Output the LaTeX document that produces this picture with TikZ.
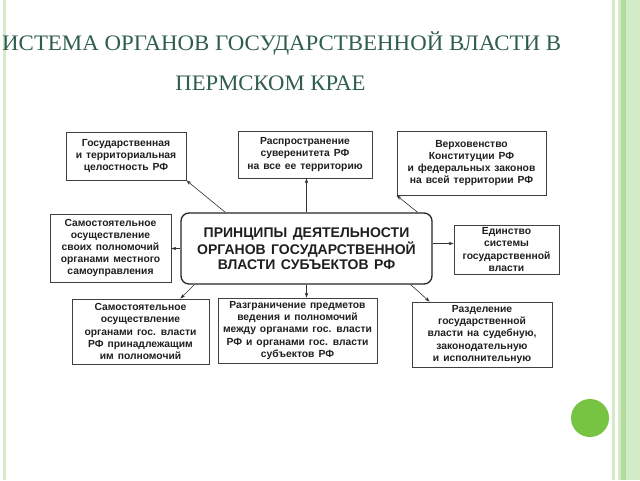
\documentclass[tikz,border=0pt]{standalone}
\usepackage{fontspec}
\setmainfont{Liberation Serif}
\newfontfamily\boxfont{Liberation Sans}[WordSpace={1.4}]
\usetikzlibrary{arrows.meta,calc}
\definecolor{titlegreen}{HTML}{2F5E4C}
\definecolor{stripelight}{HTML}{D3EBC6}
\definecolor{stripedark}{HTML}{B2DB9C}
\definecolor{dotgreen}{HTML}{77C442}
\tikzset{
  smallbox/.style={draw=black!75, line width=0.8pt, fill=white, align=center,
    font=\boxfont\bfseries\fontsize{10.3}{12.2}\selectfont, text=black!88,
    inner sep=0pt},
  mainbox/.style={draw=black!85, line width=1.3pt, rounded corners=8pt, align=center,
    font=\boxfont\bfseries\fontsize{14}{15}\selectfont, text=black!88,
    minimum width=251pt, minimum height=71pt, inner sep=0pt},
  arr/.style={draw=black!80, line width=0.6pt, -{Stealth[length=5pt,width=3.5pt]}},
  titletext/.style={text=titlegreen, font=\fontsize{21.5}{24}\selectfont, inner sep=0pt}
}
\begin{document}
\begin{tikzpicture}[x=1pt,y=-1pt]
\useasboundingbox (0,0) rectangle (640,480);
\fill[white] (0,0) rectangle (640,480);
% decorative stripes
\fill[stripelight] (3,0) rectangle (6,480);
\fill[stripelight] (612,0) rectangle (615,480);
\fill[stripelight] (618,0) rectangle (640,480);
\fill[stripedark] (621,0) rectangle (626,480);
\fill[dotgreen] (590,418) circle (19);
% title
\node[titletext, anchor=base west] (t1) at (2,50) {\scalebox{1.065}[1.03]{ИСТЕМА ОРГАНОВ ГОСУДАРСТВЕННОЙ ВЛАСТИ В}};
\node[titletext, anchor=base] (t2) at (270.5,90) {\scalebox{1.056}[1.03]{ПЕРМСКОМ КРАЕ}};
% boxes
\node[mainbox] (c) at (306.5,248.5) {ПРИНЦИПЫ ДЕЯТЕЛЬНОСТИ\\ОРГАНОВ ГОСУДАРСТВЕННОЙ\\ВЛАСТИ СУБЪЕКТОВ РФ};
\node[smallbox, minimum width=120pt, minimum height=48pt] (b1) at (126,156) {Государственная\\и территориальная\\целостность РФ};
\node[smallbox, minimum width=134pt, minimum height=47pt] (b2) at (305,154.5) {Распространение\\суверенитета РФ\\на все ее территорию};
\node[smallbox, minimum width=149pt, minimum height=64pt] (b3) at (471.5,163) {Верховенство\\Конституции РФ\\и федеральных законов\\на всей территории РФ};
\node[smallbox, minimum width=121pt, minimum height=68pt] (b4) at (110.5,248) {Самостоятельное\\осуществление\\своих полномочий\\органами местного\\самоуправления};
\node[smallbox, minimum width=105pt, minimum height=49pt] (b6) at (506.5,249.5) {Единство\\системы\\государственной\\власти};
\node[smallbox, minimum width=137pt, minimum height=65pt] (b7) at (140.5,331.5) {Самостоятельное\\осуществление\\органами гос. власти\\РФ принадлежащим\\им полномочий};
\node[smallbox, minimum width=159pt, minimum height=65pt] (b8) at (297.5,330.5) {Разграничение предметов\\ведения и полномочий\\между органами гос. власти\\РФ и органами гос. власти\\субъектов РФ};
\node[smallbox, minimum width=140pt, minimum height=65pt] (b9) at (482,334.5) {Разделение\\государственной\\власти на судебную,\\законодательную\\и исполнительную};
% connectors
\draw[arr] ($(c.north west)+(45,0)$) -- (b1.south east);
\draw[arr] (c.north) -- (c.north |- b2.south);
\draw[arr] ($(c.north east)+(-15,0)$) -- (b3.south west);
\draw[arr] (c.west) -- (c.west -| b4.east);
\coordinate (e6) at ($(c.east)+(0,-5)$);
\draw[arr] (e6) -- (e6 -| b6.west);
\draw[arr] ($(c.south west)+(14,0)$) -- ($(b7.north east)+(-29,0)$);
\draw[arr] (c.south) -- (c.south |- b8.north);
\draw[arr] ($(c.south east)+(-22,0)$) -- ($(b9.north west)+(18,0)$);
\end{tikzpicture}
\end{document}
